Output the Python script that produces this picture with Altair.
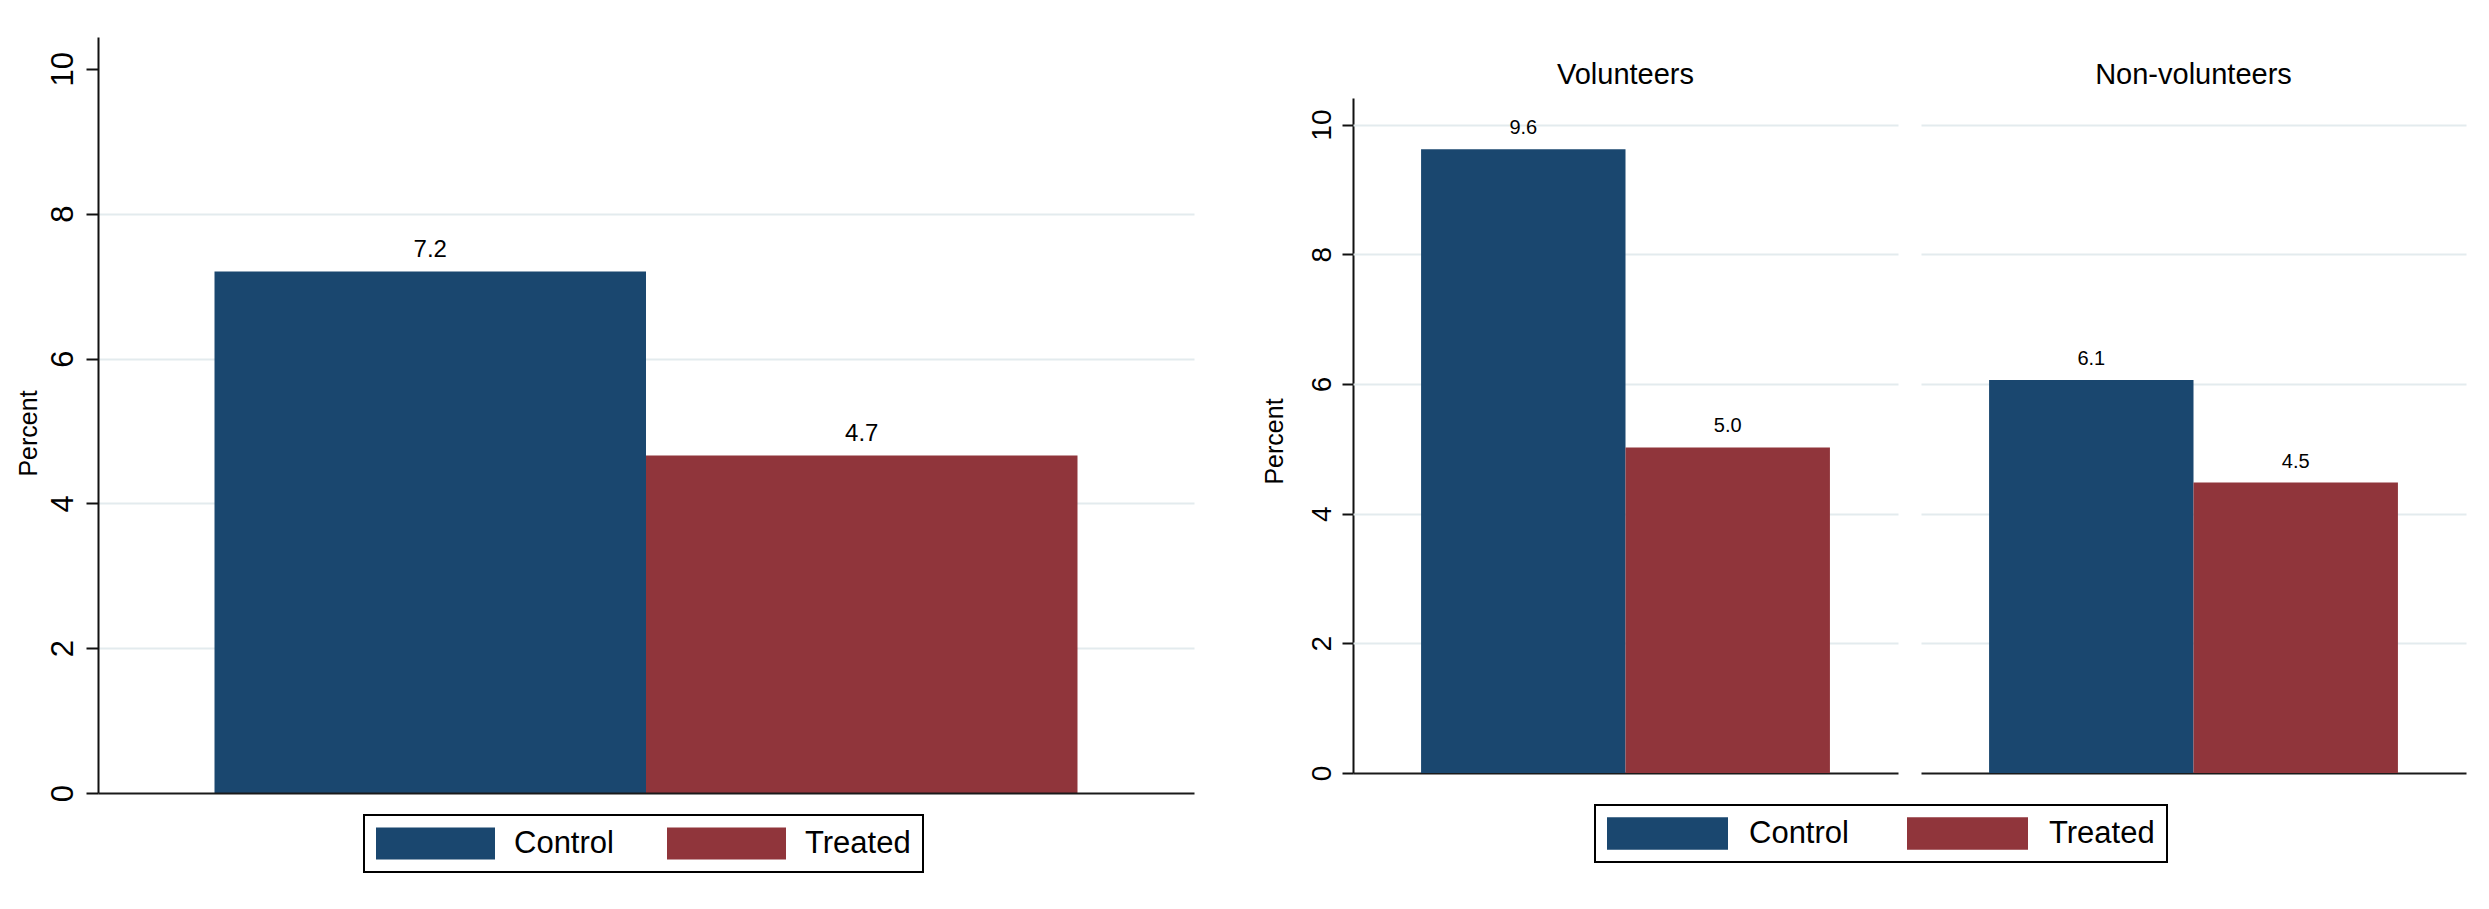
import altair as alt
import pandas as pd

# ---- data ----
treatments = ["Control", "Treated"]
overall_values = [7.2, 4.66]

groups = ["Volunteers", "Volunteers", "Non-volunteers", "Non-volunteers"]
group_treatments = ["Control", "Treated", "Control", "Treated"]
group_values = [9.62, 5.02, 6.06, 4.48]
group_order = ["Volunteers", "Non-volunteers"]

y_ticks = [0, 2, 4, 6, 8, 10]
colors = ["#1a476f", "#90353b"]

FONT = "Liberation Sans"
GRID = "#e3ebee"
AXC = "#111111"

left_df = pd.DataFrame({"treatment": treatments, "pct": overall_values})
right_df = pd.DataFrame({"group": groups, "treatment": group_treatments, "pct": group_values})

color_scale = alt.Scale(domain=treatments, range=colors)
SWATCH = "M-1,-0.27L1,-0.27L1,0.27L-1,0.27Z"


def make_legend(x, y, size, offset, colpad):
    return alt.Legend(
        title=None, orient="none", legendX=x, legendY=y, direction="horizontal", columns=2,
        symbolType=SWATCH, symbolSize=size, symbolStrokeWidth=0, symbolOpacity=1, clipHeight=33,
        labelFont=FONT, labelFontSize=31, labelColor="#000", labelOffset=offset,
        columnPadding=colpad, padding=12, strokeColor="#000", fillColor="#fff", cornerRadius=0,
    )


def y_axis(label_size, title_size, title_x, title_y, label_pad, tick_size, grid_hide_test):
    return alt.Axis(
        title="Percent", titleFont=FONT, titleFontSize=title_size, titleFontWeight="normal",
        titleColor="#000", titleAngle=270, titleAlign="center", titleBaseline="middle",
        titleX=title_x, titleY=title_y,
        values=y_ticks, format="d", labelFont=FONT, labelFontSize=label_size, labelColor="#000",
        labelAngle=270, labelAlign="center", labelBaseline="alphabetic", labelPadding=label_pad,
        labelFlush=False, tickSize=tick_size, tickColor=AXC, tickWidth=2,
        domainColor=AXC, domainWidth=2, grid=True, gridColor=GRID, gridWidth=2,
        gridOpacity={"condition": {"test": grid_hide_test, "value": 0}, "value": 1},
    )


x_axis = alt.Axis(title=None, labels=False, ticks=False, domain=True, domainColor="#1a1a1a",
                  domainWidth=2, zindex=1)

# ---- left panel ----
# its axis starts 61px higher than the right panel's, so its range reaches above the view
LEFT_H = 695
xl = alt.X("treatment:N", sort=treatments,
           scale=alt.Scale(paddingInner=0, paddingOuter=0.27), axis=x_axis)
yl = alt.Y("pct:Q", scale=alt.Scale(domain=[0, 10.44], nice=False, range=[LEFT_H, -61]),
           axis=y_axis(31, 25, -70, 335, 14, 12, "datum.value >= 10 || datum.value <= 0"))
base_l = alt.Chart(left_df)
bars_l = base_l.mark_bar().encode(
    x=xl, y=yl,
    color=alt.Color("treatment:N", scale=color_scale, legend=make_legend(266, 717, 14161, 19, 53)),
)
text_l = base_l.mark_text(baseline="alphabetic", dy=-15, fontSize=24, font=FONT, color="#000").encode(
    x=xl, y=yl, text=alt.Text("pct:Q", format=".1f")
)
left = alt.layer(bars_l, text_l).properties(width=1096, height=LEFT_H)

# ---- right panel (by group) ----
xr = alt.X("treatment:N", sort=treatments,
           scale=alt.Scale(paddingInner=0, paddingOuter=0.333), axis=x_axis)
yr = alt.Y("pct:Q", scale=alt.Scale(domain=[0, 10.41], nice=False),
           axis=y_axis(28, 25, -79, 343, 12, 11, "datum.value <= 0"))
bars_r = alt.Chart().mark_bar().encode(
    x=xr, y=yr,
    color=alt.Color("treatment:N", scale=color_scale, legend=make_legend(242, 707, 14641, 21, 58)),
)
text_r = alt.Chart().mark_text(baseline="alphabetic", dy=-15, fontSize=20, font=FONT, color="#000").encode(
    x=xr, y=yr, text=alt.Text("pct:Q", format=".1f")
)
right = alt.layer(bars_r, text_r, data=right_df).properties(width=545, height=675).facet(
    column=alt.Column(
        "group:N", sort=group_order, title=None,
        header=alt.Header(labelFont=FONT, labelFontSize=29, labelColor="#000", labelPadding=8),
    ),
    spacing=23,
)

chart = (
    alt.hconcat(left, right, spacing=68)
    .resolve_scale(color="independent")
    .properties(padding={"left": 8, "top": 43, "right": 5, "bottom": 5})
    .configure_view(stroke=None)
    .configure_legend(strokeWidth=2)
)

chart.save("out.html", embed_options={"renderer": "svg", "actions": False})
